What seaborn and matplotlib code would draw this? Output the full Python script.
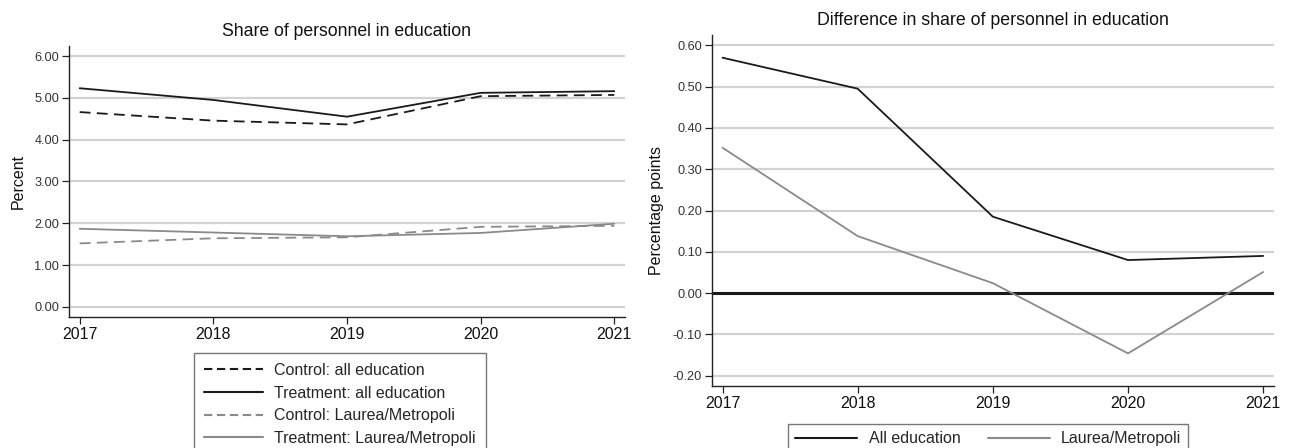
import matplotlib
matplotlib.use("Agg")
import matplotlib.pyplot as plt
import seaborn as sns
import pandas as pd
from matplotlib.lines import Line2D

years = [2017, 2018, 2019, 2020, 2021]
control_all = [4.66, 4.455, 4.365, 5.04, 5.07]
treatment_all = [5.23, 4.95, 4.55, 5.12, 5.16]
control_laurea = [1.52, 1.642, 1.666, 1.916, 1.94]
treatment_laurea = [1.87, 1.78, 1.69, 1.77, 1.99]
diff_all = [0.570, 0.495, 0.185, 0.080, 0.090]
diff_laurea = [0.352, 0.138, 0.024, -0.146, 0.051]

left_title = "Share of personnel in education"
right_title = "Difference in share of personnel in education"
left_ticks = [0, 1, 2, 3, 4, 5, 6]
right_ticks = [-0.2, -0.1, 0.0, 0.1, 0.2, 0.3, 0.4, 0.5, 0.6]

sns.set_theme(style="white")
plt.rcParams['font.family'] = ['Liberation Sans', 'DejaVu Sans']

BLACK = "#1a1a1a"
GRAY = "#8a8a8a"
GRID = "#d2d2d2"
TXT = "#333333"

fig = plt.figure(figsize=(12.92, 4.48), dpi=100)
axL = fig.add_axes([69/1292, 1-317/448, 556/1292, 271/448])
axR = fig.add_axes([711.7/1292, 1-386/448, 562.3/1292, 351/448])

def style_axes(ax, yticks, fmt, ylim):
    ax.set_xlim(2016.92, 2021.08)
    ax.set_ylim(*ylim)
    ax.set_yticks(yticks)
    ax.set_yticklabels([fmt.format(v) for v in yticks], fontsize=9.2, color=TXT)
    ax.set_xticks(years)
    ax.set_xticklabels([str(y) for y in years], fontsize=11.5, color="#111111")
    for v in yticks:
        ax.axhline(v, color=GRID, lw=1.6, zorder=0)
    for s in ["top", "right"]:
        ax.spines[s].set_visible(False)
    for s in ["left", "bottom"]:
        ax.spines[s].set_color("#222222")
        ax.spines[s].set_linewidth(1.0)
    ax.tick_params(axis="both", direction="out", length=5, width=0.9, color="#222222", pad=2,
                   left=True, bottom=True)
    ax.grid(False)

# Left panel
dfL = pd.DataFrame({"year": years, "ca": control_all, "ta": treatment_all,
                    "cl": control_laurea, "tl": treatment_laurea})
sns.lineplot(data=dfL, x="year", y="ca", ax=axL, color=BLACK, lw=1.3,
             linestyle=(0, (6, 3.5)))
sns.lineplot(data=dfL, x="year", y="ta", ax=axL, color=BLACK, lw=1.3)
sns.lineplot(data=dfL, x="year", y="cl", ax=axL, color=GRAY, lw=1.3,
             linestyle=(0, (6, 3.5)))
sns.lineplot(data=dfL, x="year", y="tl", ax=axL, color=GRAY, lw=1.3)
style_axes(axL, left_ticks, "{:.2f}", (-0.24, 6.24))
axL.set_xlabel("")
axL.set_ylabel("Percent", fontsize=11.5, color="#111111", labelpad=6)
axL.set_title(left_title, fontsize=12.7, color="#111111", pad=7)

# Right panel
dfR = pd.DataFrame({"year": years, "all": diff_all, "laurea": diff_laurea})
sns.lineplot(data=dfR, x="year", y="all", ax=axR, color=BLACK, lw=1.3)
sns.lineplot(data=dfR, x="year", y="laurea", ax=axR, color=GRAY, lw=1.3)
style_axes(axR, right_ticks, "{:.2f}", (-0.225, 0.625))
axR.axhline(0, color=BLACK, lw=2.2, zorder=1)
axR.set_xlabel("")
axR.set_ylabel("Percentage points", fontsize=11.5, color="#111111", labelpad=6)
axR.set_title(right_title, fontsize=12.8, color="#111111", pad=7)

# Legends
hL = [Line2D([], [], color=BLACK, lw=1.5, linestyle=(0, (4, 2.2))),
      Line2D([], [], color=BLACK, lw=1.5),
      Line2D([], [], color=GRAY, lw=1.5, linestyle=(0, (4, 2.2))),
      Line2D([], [], color=GRAY, lw=1.5)]
lL = ["Control: all education", "Treatment: all education",
      "Control: Laurea/Metropoli", "Treatment: Laurea/Metropoli"]
legL = fig.legend(hL, lL, loc="upper left", bbox_to_anchor=(194/1292, 1-353/448),
                  fontsize=11.5, frameon=True, fancybox=False, handlelength=3.7,
                  handletextpad=0.7, labelspacing=0.48, borderpad=0.62, borderaxespad=0)
legL.get_frame().set_edgecolor("#555555")
legL.get_frame().set_linewidth(1.0)

hR = [Line2D([], [], color=BLACK, lw=1.5), Line2D([], [], color=GRAY, lw=1.5)]
lR = ["All education", "Laurea/Metropoli"]
legR = fig.legend(hR, lR, loc="upper left", bbox_to_anchor=(788/1292, 1-424/448), ncol=2,
                  fontsize=11.5, frameon=True, fancybox=False, handlelength=3.9,
                  handletextpad=0.7, columnspacing=1.7, borderpad=0.45, borderaxespad=0)
legR.get_frame().set_edgecolor("#555555")
legR.get_frame().set_linewidth(1.0)

fig.savefig("out.png", dpi=100, facecolor="white")
